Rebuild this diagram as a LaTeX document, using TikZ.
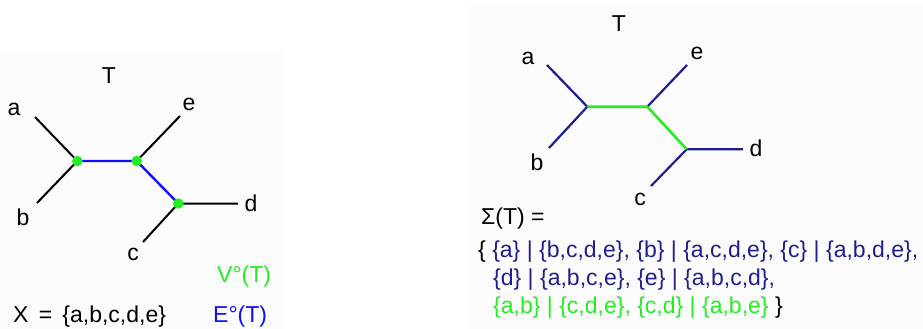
\documentclass[tikz,border=0pt]{standalone}
\usepackage{fontspec}
\setmainfont{Liberation Sans}
\definecolor{navy}{HTML}{1E1E8C}
\definecolor{lgreen}{HTML}{22EE22}
\definecolor{pblue}{HTML}{1010FF}
\definecolor{panel}{HTML}{FCFCFC}
\begin{document}
\begin{tikzpicture}[x=1pt,y=-1pt,
  lbl/.style={inner sep=0pt,font=\fontsize{23}{27}\selectfont},
  leafedge/.style={line width=2pt,black},
  intedge/.style={line width=2.4pt,pblue},
  redge/.style={line width=2.2pt,navy},
  gedge/.style={line width=2.6pt,lgreen},
  vdot/.style={circle,fill=lgreen,inner sep=0pt,minimum size=10.5pt}]
\useasboundingbox (0,0) rectangle (923,329);
\fill[white] (0,0) rectangle (923,329);
\fill[panel] (0,52) rectangle (284,329);
\fill[panel] (470,3) rectangle (923,329);
% left tree
\coordinate (la) at (35,117);
\coordinate (lb) at (37,203);
\coordinate (lc) at (143,242);
\coordinate (ld) at (238,203.5);
\coordinate (le) at (180,116);
\coordinate (lu) at (77.3,161);
\coordinate (lv) at (136.7,161);
\coordinate (lw) at (178.3,203.5);
\draw[leafedge] (la) -- (lu) -- (lb);
\draw[leafedge] (le) -- (lv);
\draw[leafedge] (lc) -- (lw) -- (ld);
\draw[intedge] (lu) -- (lv) -- (lw);
\node[vdot] (du) at (lu) {};
\node[vdot] (dv) at (lv) {};
\node[vdot] (dw) at (lw) {};
\node[lbl] (lT) at (109,76) {T};
\node[lbl] (lA) at (14,109) {a};
\node[lbl] (lB) at (23,217) {b};
\node[lbl] (lC) at (133,254) {c};
\node[lbl] (lD) at (251,203) {d};
\node[lbl] (lE) at (189,104) {e};
\node[lbl,lgreen,anchor=west] (vT) at (217,277) {V°(T)};
\node[lbl,pblue,anchor=west] (eT) at (213,317) {E°(T)};
\node[lbl,anchor=west] (X) at (13,317) {X\,\ =\ \,\{a,b,c,d,e\}};
% right tree
\coordinate (ra) at (547,65);
\coordinate (rb) at (549,148);
\coordinate (rc) at (651,186);
\coordinate (rd) at (743,149.3);
\coordinate (re) at (687,65);
\coordinate (ru) at (587.3,106.7);
\coordinate (rv) at (647.3,106.7);
\coordinate (rw) at (686.7,149.3);
\draw[redge] (ra) -- (ru) -- (rb);
\draw[redge] (re) -- (rv);
\draw[redge] (rc) -- (rw) -- (rd);
\draw[gedge] (ru) -- (rv) -- (rw);
\node[lbl] (rT) at (619,24) {T};
\node[lbl] (rA) at (528,58) {a};
\node[lbl] (rB) at (537,162) {b};
\node[lbl] (rC) at (640,199) {c};
\node[lbl] (rD) at (756,148) {d};
\node[lbl] (rE) at (697,53) {e};
\node[lbl,anchor=west] (sig) at (481,219) {Σ(T) =};
\node[lbl,anchor=west] (s1) at (478,252) {\{ \textcolor{navy}{\{a\} | \{b,c,d,e\}, \{b\} | \{a,c,d,e\}, \{c\} | \{a,b,d,e\},}};
\node[lbl,anchor=west,navy] (s2) at (493,280) {\{d\} | \{a,b,c,e\}, \{e\} | \{a,b,c,d\},};
\node[lbl,anchor=west] (s3) at (493,308) {\textcolor{lgreen}{\{a,b\} | \{c,d,e\}, \{c,d\} | \{a,b,e\}} \}};
\end{tikzpicture}
\end{document}
